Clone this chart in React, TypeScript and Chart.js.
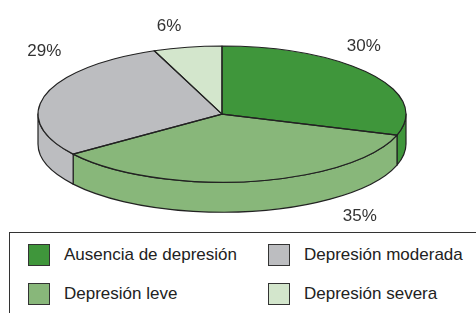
import React, { useEffect, useRef } from "react";
import { Chart, registerables } from "chart.js";

Chart.register(...registerables);

const categories = ["Ausencia de depresión", "Depresión leve", "Depresión moderada", "Depresión severa"];
const values = [30, 35, 29, 6];
const percentLabels = ["30%", "35%", "29%", "6%"];
const colors = ["#3f963b", "#88b77a", "#bcbdc0", "#d3e6cc"];
const legendOrder = [0, 2, 1, 3];

// label nudges (styling), relative to the rim point at each slice's mid-angle
const labelNudges = [
  [-7, -23.5],
  [109, 9.5],
  [-1, -39.5],
  [-18.5, -16.7],
];

const TWO_PI = Math.PI * 2;

const pie3d = {
  id: "pie3d",
  beforeDatasetsDraw(chart: any, _args: any, opts: any) {
    const meta = chart.getDatasetMeta(0);
    const ca = chart.chartArea;
    const ctx = chart.ctx as CanvasRenderingContext2D;
    const cx = (ca.left + ca.right) / 2;
    const rx = (ca.right - ca.left) / 2;
    const ry = rx * opts.tilt;
    const cy = ca.top + ry;
    const depth = opts.depth;
    chart.$pie3d = { cx, cy, rx, ry, depth };

    ctx.save();
    ctx.lineWidth = opts.lineWidth;
    ctx.strokeStyle = opts.lineColor;
    ctx.lineJoin = "round";
    meta.data.forEach((arc: any, i: number) => {
      const { startAngle, endAngle } = arc.getProps(["startAngle", "endAngle"], true);
      for (let k = -1; k <= 2; k++) {
        const s = Math.max(startAngle, TWO_PI * k);
        const e = Math.min(endAngle, TWO_PI * k + Math.PI);
        if (e > s) {
          ctx.beginPath();
          ctx.ellipse(cx, cy, rx, ry, 0, s, e, false);
          ctx.lineTo(cx + rx * Math.cos(e), cy + depth + ry * Math.sin(e));
          ctx.ellipse(cx, cy + depth, rx, ry, 0, e, s, true);
          ctx.closePath();
          ctx.fillStyle = colors[i];
          ctx.fill();
          ctx.stroke();
        }
      }
    });
    ctx.restore();

    const a0 = meta.data[0];
    const R = a0.outerRadius;
    ctx.save();
    ctx.translate(cx, cy);
    ctx.scale(rx / R, ry / R);
    ctx.translate(-a0.x, -a0.y);
  },
  afterDatasetsDraw(chart: any, _args: any, opts: any) {
    const ctx = chart.ctx as CanvasRenderingContext2D;
    ctx.restore();
    const { cx, cy, rx, ry, depth } = chart.$pie3d;
    const meta = chart.getDatasetMeta(0);
    ctx.save();
    ctx.lineWidth = opts.lineWidth;
    ctx.strokeStyle = opts.lineColor;
    ctx.lineJoin = "round";
    meta.data.forEach((arc: any) => {
      const { startAngle, endAngle } = arc.getProps(["startAngle", "endAngle"], true);
      ctx.beginPath();
      ctx.moveTo(cx, cy);
      ctx.ellipse(cx, cy, rx, ry, 0, startAngle, endAngle, false);
      ctx.closePath();
      ctx.stroke();
    });
    ctx.fillStyle = opts.labelColor;
    ctx.font = opts.labelFont;
    ctx.textAlign = "center";
    ctx.textBaseline = "alphabetic";
    meta.data.forEach((arc: any, i: number) => {
      const { startAngle, endAngle } = arc.getProps(["startAngle", "endAngle"], true);
      const m = (startAngle + endAngle) / 2;
      const sn = Math.sin(m);
      const x = cx + rx * Math.cos(m) + labelNudges[i][0];
      const y = cy + ry * sn + (sn > 0 ? depth : 0) + labelNudges[i][1];
      ctx.fillText(percentLabels[i], x, y);
    });
    ctx.restore();
  },
};

export default function App() {
  const ref = useRef<HTMLCanvasElement | null>(null);
  useEffect(() => {
    if (!ref.current) return;
    const chart = new Chart(ref.current, {
      type: "pie",
      data: {
        labels: categories,
        datasets: [
          {
            data: values,
            backgroundColor: colors,
            borderWidth: 0,
            clip: false,
          } as any,
        ],
      },
      options: {
        responsive: false,
        animation: false,
        events: [],
        layout: { padding: { left: 38, right: 70, top: 46, bottom: 20 } },
        plugins: {
          legend: { display: false },
          tooltip: { enabled: false },
          pie3d: {
            tilt: 0.37,
            depth: 30,
            lineWidth: 1.2,
            lineColor: "#222",
            labelColor: "#333",
            labelFont: "17px 'Liberation Sans', Arial, sans-serif",
          },
        } as any,
      },
      plugins: [pie3d as any],
    });
    return () => chart.destroy();
  }, []);

  const font = "'Liberation Sans', Arial, sans-serif";
  return (
    <div style={{ position: "fixed", left: 0, top: 0, width: 476, height: 313, overflow: "hidden", background: "#fff" }}>
      <canvas ref={ref} width={476} height={232} style={{ position: "absolute", left: 0, top: 0 }} />
      <div
        style={{
          position: "absolute",
          left: 9,
          top: 232,
          width: 490,
          height: 110,
          border: "1px solid #333",
          boxSizing: "border-box",
        }}
      >
        {legendOrder.map((idx, j) => {
          const col = j % 2;
          const row = Math.floor(j / 2);
          const left = col === 0 ? 18 : 258;
          const top = row === 0 ? 11 : 50;
          return (
            <div key={idx}>
              <div
                style={{
                  position: "absolute",
                  left,
                  top,
                  width: 22,
                  height: 22,
                  boxSizing: "border-box",
                  border: "1px solid #333",
                  background: colors[idx],
                }}
              />
              <div
                style={{
                  position: "absolute",
                  left: left + 36,
                  top,
                  height: 22,
                  lineHeight: "22px",
                  fontFamily: font,
                  fontSize: 17,
                  color: "#222",
                  whiteSpace: "nowrap",
                }}
              >
                {categories[idx]}
              </div>
            </div>
          );
        })}
      </div>
    </div>
  );
}
